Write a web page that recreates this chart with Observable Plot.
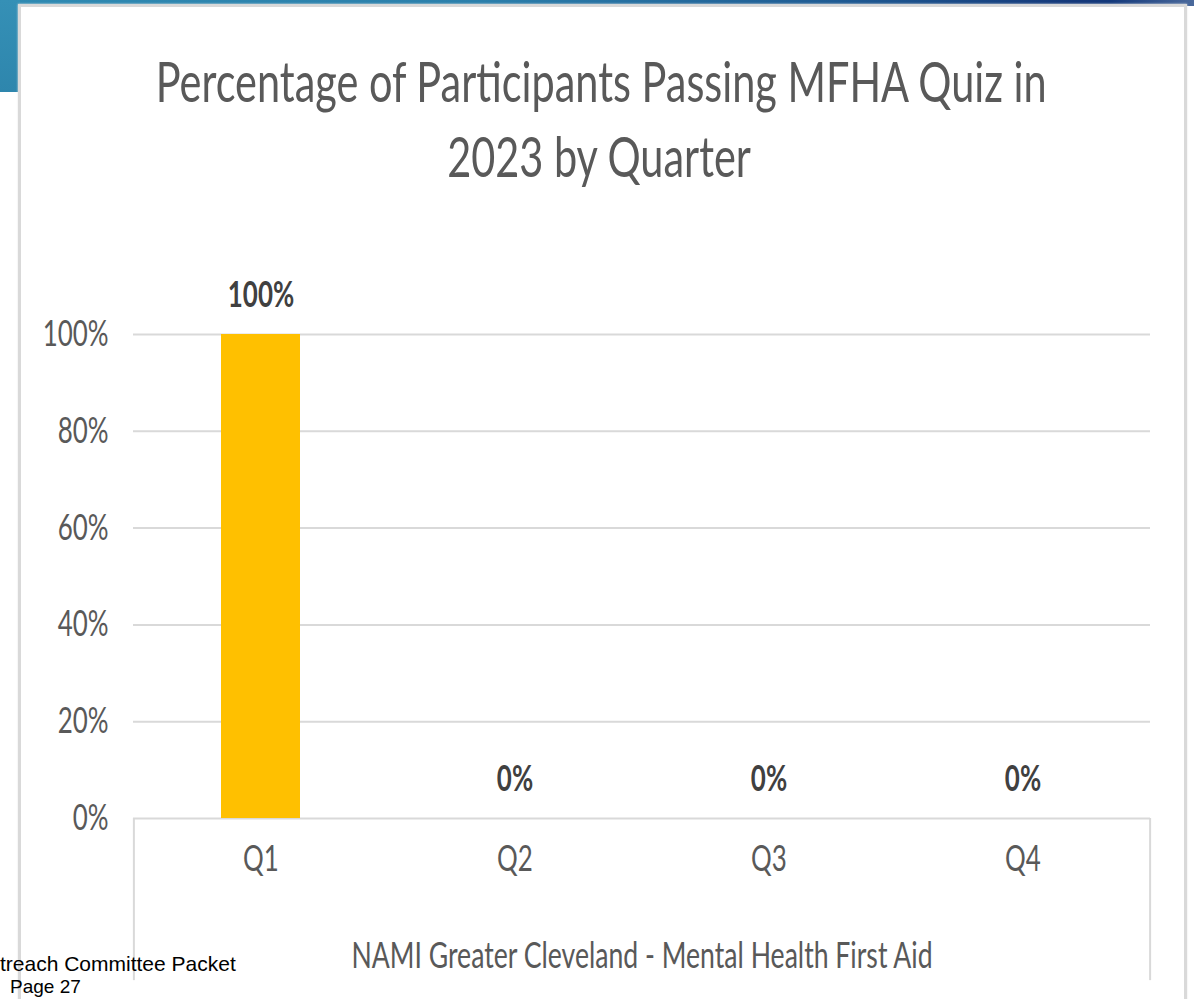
<!DOCTYPE html>
<html>
<head>
<meta charset="utf-8">
<script src="https://cdn.jsdelivr.net/npm/d3@7"></script>
<script src="https://cdn.jsdelivr.net/npm/@observablehq/plot@0.6"></script>
<style>
  html, body { margin: 0; padding: 0; background: #fff; }
  #page { position: relative; width: 1194px; height: 999px; overflow: hidden; font-family: Lato, "Open Sans", sans-serif; }
  #band { position: absolute; left: 0; top: 0; width: 1194px; height: 6px;
    background: linear-gradient(to right, #2f8ab2 0%, #2b7fab 40%, #1f5b93 70%, #15397a 90%, #13387a 93%, #4b6a9c 100%); }
  #corner { position: absolute; left: 0; top: 0; width: 20px; height: 92px;
    background: linear-gradient(to bottom, #3590b6, #2e86ad); }
  #box { position: absolute; left: 18px; top: 4px; width: 1169px; height: 1100px; box-sizing: border-box;
    border: 3px solid #d9d9d9; background: #fff; box-shadow: 0 0 2px #e6e6e6; }
  #title { position: absolute; left: 0; top: 43px; width: 1198px; text-align: center; color: #595959;
    font-family: Lato, sans-serif; font-size: 56px; line-height: 75px; transform: scaleX(0.74); transform-origin: 50% 0; white-space: nowrap; }
  #chart { position: absolute; left: 0; top: 200px; }
  #footer { position: absolute; left: 0; top: 952px; font-family: "Liberation Sans", Arial, sans-serif; color: #000; white-space: nowrap; }
  #footer .l1 { font-size: 21px; line-height: 24px; }
  #footer .l2 { font-size: 19px; line-height: 21px; padding-left: 10px; }
</style>
</head>
<body>
<div id="page">
  <div id="band"></div>
  <div id="corner"></div>
  <div id="box"></div>
  <div id="title"></div>
  <div id="chart"></div>
  <div id="footer"></div>
</div>
<script>
// ---- data ----
const categories = ["Q1", "Q2", "Q3", "Q4"];
const passRates = [1.00, 0.00, 0.00, 0.00];
const yTicks = [0, 0.2, 0.4, 0.6, 0.8, 1.0];
const titleLines = ["Percentage of Participants Passing MFHA Quiz in", "2023 by Quarter"];
const groupLabel = "NAMI Greater Cleveland - Mental Health First Aid";
const footerLines = ["treach Committee Packet", "Page 27"];

// ---- styling / layout ----
const W = 1194, H = 799;
const mL = 133, mR = 44, mT = 134, mB = 181;
const TEXT = "#595959", LABEL = "#404040", GRID = "#d9d9d9", BAR = "#FFC000";
const FS = 36;
const SQUEEZE = 0.72;          // the source picture is horizontally compressed
const catDepth = 0.335;        // depth of the category axis box below the baseline (in y units)
const step = (W - mL - mR) / categories.length;

const rows = categories.map((q, i) => ({quarter: q, rate: passRates[i]}));
const pct = d3.format(".0%");

document.getElementById("title").innerHTML = titleLines.map(t => `<div>${t}</div>`).join("");
document.getElementById("footer").innerHTML =
  `<div class="l1">${footerLines[0]}</div><div class="l2">${footerLines[1]}</div>`;

const chart = Plot.plot({
  width: W, height: H,
  marginLeft: mL, marginRight: mR, marginTop: mT, marginBottom: mB,
  style: {background: "transparent", fontFamily: "Lato, sans-serif", overflow: "visible"},
  x: {domain: categories, paddingInner: 0.69, paddingOuter: 0.345, axis: null},
  y: {domain: [0, 1], axis: null},
  marks: [
    Plot.ruleY(yTicks, {stroke: GRID, strokeWidth: 2}),
    Plot.ruleX([categories[0]], {y1: 0, y2: -catDepth, dx: -step / 2, stroke: GRID, strokeWidth: 2}),
    Plot.ruleX([categories[categories.length - 1]], {y1: 0, y2: -catDepth, dx: step / 2, stroke: GRID, strokeWidth: 2}),
    Plot.barY(rows, {x: "quarter", y: "rate", fill: BAR}),
    Plot.axisY(yTicks, {tickSize: 0, tickPadding: 25, tickFormat: pct, fontSize: FS, fill: TEXT, label: null}),
    Plot.axisX({tickSize: 0, tickPadding: 27, fontSize: FS, fill: TEXT, label: null}),
    Plot.text(rows, {x: "quarter", y: "rate", text: d => pct(d.rate), dy: -39, fontSize: FS, fontWeight: "bold", fill: LABEL}),
    Plot.text([groupLabel], {frameAnchor: "bottom", dy: 149, fontSize: 37, fill: TEXT})
  ]
});

for (const t of chart.querySelectorAll("text")) {
  const tr = t.getAttribute("transform");
  if (tr) t.setAttribute("transform", tr + ` scale(${SQUEEZE},1)`);
  else {
    const x = +t.getAttribute("x") || 0;
    t.setAttribute("transform", `translate(${x},0) scale(${SQUEEZE},1) translate(${-x},0)`);
  }
}
document.getElementById("chart").appendChild(chart);
</script>
</body>
</html>
